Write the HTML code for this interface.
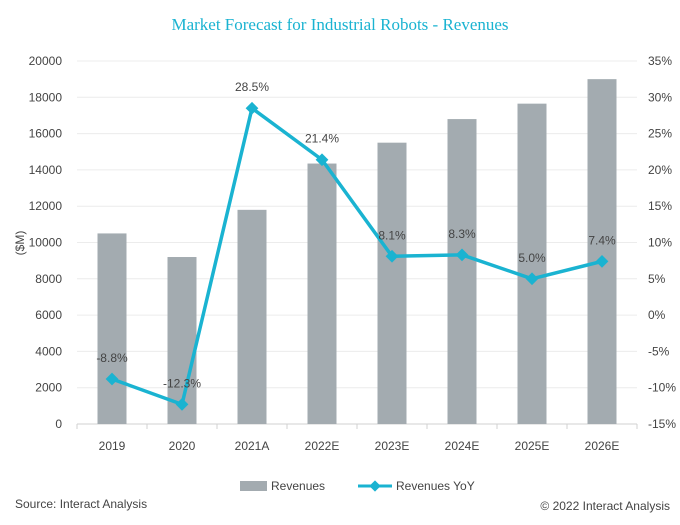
<!DOCTYPE html>
<html><head><meta charset="utf-8"><style>
body{margin:0;background:#fff;font-family:"Liberation Sans",sans-serif}
svg text{font-family:"Liberation Sans",sans-serif}
</style></head><body>
<svg width="680" height="520" viewBox="0 0 680 520">
<text x="340" y="30" text-anchor="middle" font-family="Liberation Serif" font-size="17" fill="#1ab3d1" style="font-family:'Liberation Serif',serif">Market Forecast for Industrial Robots - Revenues</text>
<g id="grid"></g><g id="bars"></g><g id="line"></g><g id="axes"></g>
<text x="0" y="0" transform="translate(24,243) rotate(-90)" text-anchor="middle" font-size="12" fill="#444">($M)</text>
<rect x="240" y="481" width="27" height="10" fill="#a3abb0"/>
<text x="271" y="490" font-size="12" fill="#444">Revenues</text>
<line x1="358" y1="486" x2="392" y2="486" stroke="#1ab3d1" stroke-width="3"/>
<rect x="371" y="482" width="8" height="8" fill="#1ab3d1" transform="rotate(45 375 486)"/>
<text x="396" y="490" font-size="12" fill="#444">Revenues YoY</text>
<text x="15" y="508" font-size="12" fill="#444">Source: Interact Analysis</text>
<text x="670" y="510" text-anchor="end" font-size="12" fill="#444">© 2022 Interact Analysis</text>
</svg>
<script>
const categories=["2019","2020","2021A","2022E","2023E","2024E","2025E","2026E"];
const revenues=[10500,9200,11800,14350,15500,16800,17650,19000];
const yoy=[-8.8,-12.3,28.5,21.4,8.1,8.3,5.0,7.4];
const leftTicks=[0,2000,4000,6000,8000,10000,12000,14000,16000,18000,20000];
const rightTicks=[-15,-10,-5,0,5,10,15,20,25,30,35];
const NS="http://www.w3.org/2000/svg";
const X0=77,X1=637,Y0=424,Y1=61;
const bw=(X1-X0)/categories.length;
const xc=i=>X0+bw*(i+0.5);
const yL=v=>Y0-(v/20000)*(Y0-Y1);
const yR=v=>Y0-((v+15)/50)*(Y0-Y1);
function mk(t,a,p){const e=document.createElementNS(NS,t);for(const k in a)e.setAttribute(k,a[k]);document.getElementById(p).appendChild(e);return e;}
leftTicks.forEach((v,i)=>{
 const g=mk('line',{x1:X0,x2:X1,y1:yL(v),y2:yL(v),stroke:i==0?'#d0d0d0':'#ececec','stroke-width':1},'grid');
 
 
 const t=mk('text',{x:62,y:yL(v)+4,'text-anchor':'end','font-size':12,fill:'#444'},'axes');t.textContent=v;
 
 
});
rightTicks.forEach(v=>{
 const t=mk('text',{x:648,y:yR(v)+4,'font-size':12,fill:'#444'},'axes');t.textContent=v+'%';
 
 
});
for(let i=0;i<=categories.length;i++){
 const l=mk('line',{x1:X0+bw*i,x2:X0+bw*i,y1:Y0,y2:Y0+5,stroke:'#d0d0d0'},'axes');
 
 
}
categories.forEach((c,i)=>{
 const t=mk('text',{x:xc(i),y:450,'text-anchor':'middle','font-size':12,fill:'#444'},'axes');t.textContent=c;
 
 
 const b=mk('rect',{x:xc(i)-14.5,y:yL(revenues[i]),width:29,height:Y0-yL(revenues[i]),fill:'#a3abb0'},'bars');
 
 
});
const pl=mk('polyline',{points:yoy.map((v,i)=>xc(i)+','+yR(v)).join(' '),fill:'none',stroke:'#1ab3d1','stroke-width':3.5,'stroke-linejoin':'round'},'line');


yoy.forEach((v,i)=>{
 const x=xc(i),y=yR(v);
 const m=mk('rect',{x:x-4.5,y:y-4.5,width:9,height:9,fill:'#1ab3d1',transform:`rotate(45 ${x} ${y})`},'line');
 
 
 const t=mk('text',{x:x,y:y-17,'text-anchor':'middle','font-size':12,fill:'#444'},'line');t.textContent=v.toFixed(1)+'%';
 
 
});
</script>
</body></html>
